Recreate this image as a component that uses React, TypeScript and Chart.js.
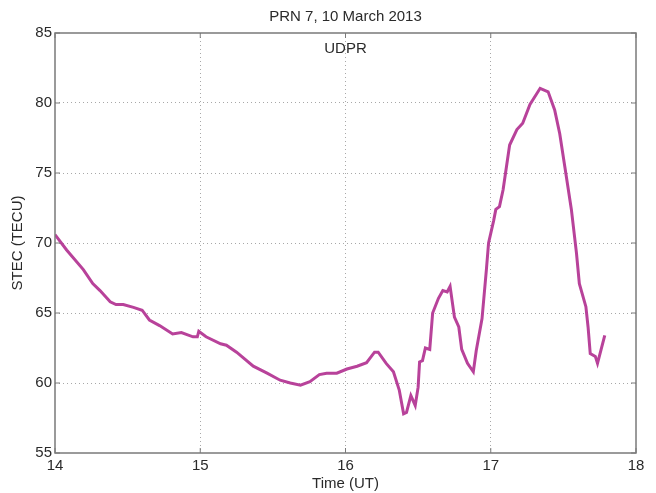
import React, { useEffect, useRef } from "react";
import { Chart, registerables } from "chart.js";

Chart.register(...registerables);

const times: number[] = [
  14.0, 14.08, 14.195, 14.26, 14.31, 14.38, 14.42, 14.47, 14.54, 14.6, 14.65, 14.72, 14.81, 14.87,
  14.95, 14.98, 14.99, 15.04, 15.14, 15.18, 15.25, 15.365, 15.46, 15.55, 15.62, 15.69, 15.755,
  15.82, 15.87, 15.94, 16.01, 16.08, 16.145, 16.2, 16.225, 16.28, 16.33, 16.37, 16.4, 16.42,
  16.45, 16.48, 16.5, 16.51, 16.53, 16.55, 16.58, 16.6, 16.64, 16.67, 16.7, 16.72, 16.75, 16.78,
  16.8, 16.84, 16.88, 16.9, 16.94, 16.97, 16.985, 17.02, 17.035, 17.06, 17.085, 17.13, 17.18,
  17.22, 17.27, 17.34, 17.395, 17.44, 17.475, 17.51, 17.555, 17.59, 17.61, 17.655, 17.67, 17.685,
  17.72, 17.735, 17.76, 17.785,
];
const stec: number[] = [
  70.6, 69.5, 68.1, 67.1, 66.6, 65.8, 65.6, 65.6, 65.4, 65.2, 64.5, 64.1, 63.5, 63.6,
  63.3, 63.3, 63.7, 63.3, 62.8, 62.7, 62.2, 61.2, 60.7, 60.2, 60.0, 59.85, 60.1,
  60.6, 60.7, 60.7, 61.0, 61.2, 61.45, 62.2, 62.2, 61.4, 60.8, 59.5, 57.8, 57.9,
  59.1, 58.4, 59.7, 61.5, 61.6, 62.5, 62.4, 65.0, 66.05, 66.6, 66.5, 66.9, 64.7, 64.0,
  62.4, 61.4, 60.8, 62.3, 64.6, 68.1, 70.0, 71.6, 72.4, 72.6, 73.8, 77.0, 78.1,
  78.55, 79.9, 81.05, 80.8, 79.5, 77.8, 75.45, 72.4, 69.3, 67.1, 65.45, 64.0, 62.1,
  61.9, 61.4, 62.4, 63.4,
];
const xTicks: number[] = [14, 15, 16, 17, 18];
const yTicks: number[] = [55, 60, 65, 70, 75, 80, 85];
const titleText = "PRN 7, 10 March 2013";
const stationLabel = "UDPR";
const xTitle = "Time (UT)";
const yTitle = "STEC (TECU)";

const FONT = "'Liberation Sans', Arial, Helvetica, sans-serif";
const TEXT = "#2a2a2a";
const AXIS = "#7a7a7a";
const GRID = "#a8a8a8";

const framePlugin = {
  id: "frame",
  afterDatasetsDraw(chart: any) {
    const { ctx, chartArea: a, scales } = chart;
    ctx.save();
    ctx.strokeStyle = AXIS;
    ctx.lineWidth = 1.5;
    ctx.strokeRect(a.left, a.top, a.right - a.left, a.bottom - a.top);
    ctx.lineWidth = 1;
    const tl = 5;
    ctx.beginPath();
    for (const t of xTicks) {
      const px = scales.x.getPixelForValue(t);
      ctx.moveTo(px, a.top);
      ctx.lineTo(px, a.top + tl);
      ctx.moveTo(px, a.bottom);
      ctx.lineTo(px, a.bottom - tl);
    }
    for (const t of yTicks) {
      const py = scales.y.getPixelForValue(t);
      ctx.moveTo(a.left, py);
      ctx.lineTo(a.left + tl, py);
      ctx.moveTo(a.right, py);
      ctx.lineTo(a.right - tl, py);
    }
    ctx.stroke();
    ctx.fillStyle = TEXT;
    ctx.textAlign = "center";
    ctx.textBaseline = "middle";
    ctx.font = `15px ${FONT}`;
    const cx = (a.left + a.right) / 2;
    ctx.fillText(titleText, cx, 16.5);
    ctx.fillText(stationLabel, cx, 49);
    ctx.restore();
  },
};

export default function App() {
  const ref = useRef<HTMLCanvasElement>(null);
  useEffect(() => {
    const data = times.map((t, i) => ({ x: t, y: stec[i] }));
    const chart = new Chart(ref.current as HTMLCanvasElement, {
      type: "line",
      data: {
        datasets: [
          {
            data,
            borderColor: "#b8429a",
            borderWidth: 3,
            pointRadius: 0,
            tension: 0,
            fill: false,
          },
        ],
      },
      options: {
        animation: false,
        responsive: true,
        maintainAspectRatio: false,
        layout: { padding: { top: 33, right: 20, left: 0, bottom: 0 } },
        plugins: { legend: { display: false }, tooltip: { enabled: false }, title: { display: false } },
        scales: {
          x: {
            type: "linear",
            min: 14,
            max: 18,
            afterBuildTicks: (s: any) => {
              s.ticks = xTicks.map((v) => ({ value: v }));
            },
            afterFit: (s: any) => {
              s.height = 40;
            },
            ticks: { color: TEXT, font: { family: FONT, size: 15 }, padding: 4, maxRotation: 0 },
            grid: {
              color: (c: any) => (c.tick && (c.tick.value === 14 || c.tick.value === 18) ? "rgba(0,0,0,0)" : GRID),
              lineWidth: 1,
              drawTicks: false,
            },
            border: { display: false, dash: [1, 3] },
            title: { display: true, text: xTitle, color: TEXT, font: { family: FONT, size: 15 }, padding: { top: 0, bottom: 0 } },
          },
          y: {
            type: "linear",
            min: 55,
            max: 85,
            afterBuildTicks: (s: any) => {
              s.ticks = yTicks.map((v) => ({ value: v }));
            },
            afterFit: (s: any) => {
              s.width = 55;
            },
            ticks: { color: TEXT, font: { family: FONT, size: 15 }, padding: 3 },
            grid: {
              color: (c: any) => (c.tick && (c.tick.value === 55 || c.tick.value === 85) ? "rgba(0,0,0,0)" : GRID),
              lineWidth: 1,
              drawTicks: false,
            },
            border: { display: false, dash: [1, 3] },
            title: { display: true, text: yTitle, color: TEXT, font: { family: FONT, size: 15 }, padding: { top: 9, bottom: 0 } },
          },
        },
      },
      plugins: [framePlugin],
    } as any);
    return () => chart.destroy();
  }, []);
  return (
    <div style={{ position: "absolute", left: 0, top: 0, width: 656, height: 493, background: "#fff" }}>
      <canvas ref={ref} />
    </div>
  );
}
